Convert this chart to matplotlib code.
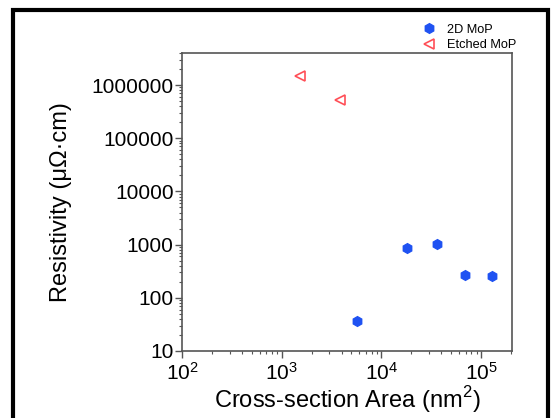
import matplotlib.pyplot as plt
from matplotlib.patches import Rectangle
from matplotlib.ticker import LogLocator, FixedLocator, FixedFormatter

plt.rcParams['font.family'] = ['Liberation Sans', 'DejaVu Sans']
plt.rcParams['mathtext.fontset'] = 'custom'
plt.rcParams['mathtext.rm'] = 'Liberation Sans'

# 2D MoP
area_2d = [5690, 17990, 36300, 69700, 127600]
rho_2d = [36, 852, 1027, 267, 253]

# Etched MoP
area_etched = [1543, 3882]
rho_etched = [1.476e6, 5.29e5]

y_ticks = [10, 100, 1000, 10000, 100000, 1000000]
y_labels = ['10', '100', '1000', '10000', '100000', '1000000']

fig = plt.figure(figsize=(5.52, 4.18), dpi=100)
ax = fig.add_axes([0.3297, 0.1603, 0.5978, 0.7129])

ax.plot(area_2d, rho_2d, linestyle='none', marker='h', markersize=7,
        color='#1f52f2', label='2D MoP')
ax.plot(area_etched, rho_etched, linestyle='none', marker='<', markersize=7,
        markerfacecolor='none', markeredgecolor='#ff4f57', markeredgewidth=1.2,
        label='Etched MoP')

ax.set_xscale('log')
ax.set_yscale('log')
ax.set_xlim(100, 2.04e5)
ax.set_ylim(10, 4e6)

ax.yaxis.set_major_locator(FixedLocator(y_ticks))
ax.yaxis.set_major_formatter(FixedFormatter(y_labels))
ax.yaxis.set_minor_locator(LogLocator(base=10, subs=range(2, 10)))
ax.xaxis.set_minor_locator(LogLocator(base=10, subs=range(2, 10)))

for s in ax.spines.values():
    s.set_color('#555555')
    s.set_linewidth(1.2)
ax.tick_params(which='major', direction='out', length=5, width=1, color='#555555',
               labelsize=15)
ax.tick_params(axis='y', which='major', pad=1)
ax.tick_params(axis='x', which='major', pad=3)
ax.tick_params(which='minor', direction='out', length=2, width=0.8, color='#555555')

ax.set_xlabel('Cross-section Area (nm$^2$)', fontsize=17, labelpad=0)
ax.set_ylabel('Resistivity (μΩ·cm)', fontsize=17, labelpad=14)

ax.legend(loc='lower left', bbox_to_anchor=(0.705, 0.985), frameon=False,
          fontsize=9.2, handletextpad=0.8, labelspacing=0.25, borderpad=0,
          handlelength=1.2)

# black frame around the figure
fig.patches.append(Rectangle((13, -20), 535, 428, transform=None, fill=False,
                             edgecolor='black', linewidth=3, zorder=10))

fig.savefig('out.png', dpi=100)
